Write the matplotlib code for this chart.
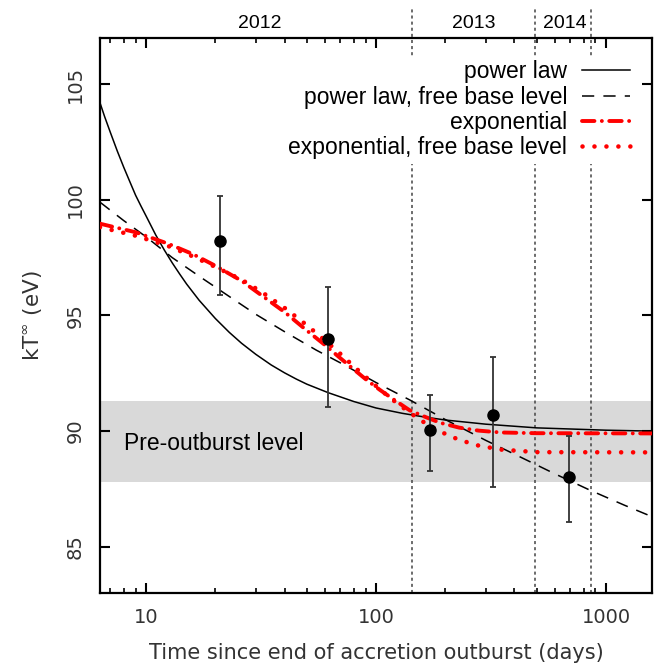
import matplotlib
matplotlib.use('Agg')
import matplotlib.pyplot as plt
from matplotlib.transforms import blended_transform_factory

# measured temperatures (days since end of outburst, eV)
obs_t = [21, 62, 172, 321, 689]
obs_kT = [98.24, 94.0, 90.04, 90.68, 88.01]
obs_lo = [95.88, 91.05, 88.29, 87.58, 86.05]
obs_hi = [100.16, 96.25, 91.58, 93.22, 89.78]

# model curves
pl_t = [6.3, 6.6, 7, 7.5, 8, 8.5, 9, 9.5, 10, 11, 12, 13, 14, 15, 17, 20, 23, 26, 30, 35,
        40, 45, 50, 62, 80, 100, 130, 160, 200, 300, 500, 1000, 1585]
pl_kT = [104.2, 103.6, 102.9, 102.1, 101.4, 100.78, 100.2, 99.73, 99.3, 98.49, 97.83, 97.27,
         96.79, 96.36, 95.66, 94.87, 94.27, 93.8, 93.32, 92.86, 92.52, 92.25, 92.03, 91.66,
         91.28, 91.0, 90.77, 90.62, 90.48, 90.3, 90.14, 90.04, 90.0]

plfree_t = [6.3, 8, 10, 13, 17, 22, 30, 40, 55, 70, 100, 140, 200, 300, 420, 600, 850, 1200, 1585]
plfree_kT = [99.9, 99.1, 98.4, 97.5, 96.7, 95.95, 95.05, 94.3, 93.5, 92.95, 92.1, 91.35,
             90.5, 89.6, 88.9, 88.15, 87.45, 86.8, 86.3]

exp_t = [6.3, 9, 12.5, 16, 20, 26, 32, 40, 50, 60, 70, 80, 90, 104, 120, 140, 165, 190,
         230, 280, 350, 500, 1585]
exp_kT = [98.97, 98.6, 98.1, 97.65, 97.15, 96.5, 95.85, 95.15, 94.35, 93.72, 93.15, 92.67,
          92.25, 91.78, 91.35, 90.9, 90.6, 90.36, 90.15, 90.02, 89.94, 89.91, 89.9]

expfree_t = [6.3, 9, 12.5, 16, 20, 26, 32, 40, 50, 60, 70, 80, 90, 104, 120, 140, 165, 190,
             230, 280, 350, 500, 1585]
expfree_kT = [98.82, 98.45, 98.0, 97.55, 97.1, 96.55, 96.0, 95.33, 94.58, 93.92, 93.34, 92.8,
              92.35, 91.8, 91.3, 90.8, 90.32, 89.98, 89.62, 89.37, 89.2, 89.09, 89.08]

# pre-outburst band and year boundaries
base_lo, base_hi = 87.8, 91.3
year_edges = [143.5, 490, 857]
year_labels = ['2012', '2013', '2014']
year_label_t = [31.3, 267, 660]

sans = 'Liberation Sans'
tickfont = 'DejaVu Sans'
tickcol = '#333333'

fig = plt.figure(figsize=(6.56, 6.63), dpi=100)
ax = fig.add_axes([0.1524, 0.1056, 0.8415, 0.8371])

ax.axhspan(base_lo, base_hi, color='#d9d9d9', zorder=0, lw=0)
ax.text(8.0, 89.45, 'Pre-outburst level', family=sans, fontsize=16.5, va='center', ha='left')

for t in year_edges:
    ax.axvline(t, ymin=0, ymax=1.055, color='#444444', lw=1.1, dashes=(2, 2), clip_on=False, zorder=1)

ax.plot(pl_t, pl_kT, color='k', lw=1.1, label='power law', zorder=3)
ax.plot(plfree_t, plfree_kT, color='k', lw=1.1, dashes=(8, 6), label='power law, free base level', zorder=3)
ax.plot(exp_t, exp_kT, color='#ff0000', lw=2.8, dashes=(3.2, 1.9, 0.01, 1.9),
        dash_capstyle='round', label='exponential', zorder=4)
ax.plot(expfree_t, expfree_kT, color='#ff0000', lw=3.3, dashes=(0.01, 2.6),
        dash_capstyle='round', label='exponential, free base level', zorder=4)

yerr = [[k - lo for k, lo in zip(obs_kT, obs_lo)], [hi - k for k, hi in zip(obs_kT, obs_hi)]]
ax.errorbar(obs_t, obs_kT, yerr=yerr, fmt='o', color='k', ms=8, ecolor='#333333',
            elinewidth=1.3, capsize=2.5, capthick=1.3, zorder=5)

ax.set_xscale('log')
ax.set_xlim(6.3, 1585)
ax.set_ylim(83, 107)
ax.set_yticks([85, 90, 95, 100, 105])
ax.set_xticks([10, 100, 1000])
ax.set_xticklabels(['10', '100', '1000'])

for s in ax.spines.values():
    s.set_linewidth(1.6)
ax.tick_params(which='major', direction='in', length=7, width=1.5, top=True, right=True,
               labelsize=14, labelcolor=tickcol, pad=11)
ax.tick_params(which='minor', direction='in', length=3.5, width=1.2, top=True, right=True)
ax.tick_params(axis='y', which='minor', left=False, right=False)
for lab in ax.get_yticklabels():
    lab.set_rotation(90)
    lab.set_va('center')
    lab.set_family(tickfont)
for lab in ax.get_xticklabels():
    lab.set_family(tickfont)

ax.set_xlabel('Time since end of accretion outburst (days)', family=tickfont, fontsize=15,
              color=tickcol, labelpad=11)
ax.set_ylabel(r'kT$^{\infty}$ (eV)', family=tickfont, fontsize=15.5, color=tickcol, labelpad=15)

trans = blended_transform_factory(ax.transData, ax.transAxes)
for lbl, t in zip(year_labels, year_label_t):
    ax.text(t, 1.027, lbl, transform=trans, family=sans, fontsize=14, ha='center', va='center')

leg = ax.legend(loc='upper right', bbox_to_anchor=(0.9685, 0.968), borderaxespad=0,
                markerfirst=False, frameon=True, framealpha=1, edgecolor='none',
                facecolor='white', prop={'family': sans, 'size': 16.5}, handlelength=2.1,
                handletextpad=0.65, labelspacing=0.1, borderpad=0.2)
leg.set_zorder(6)

fig.savefig('out.png', dpi=100)
